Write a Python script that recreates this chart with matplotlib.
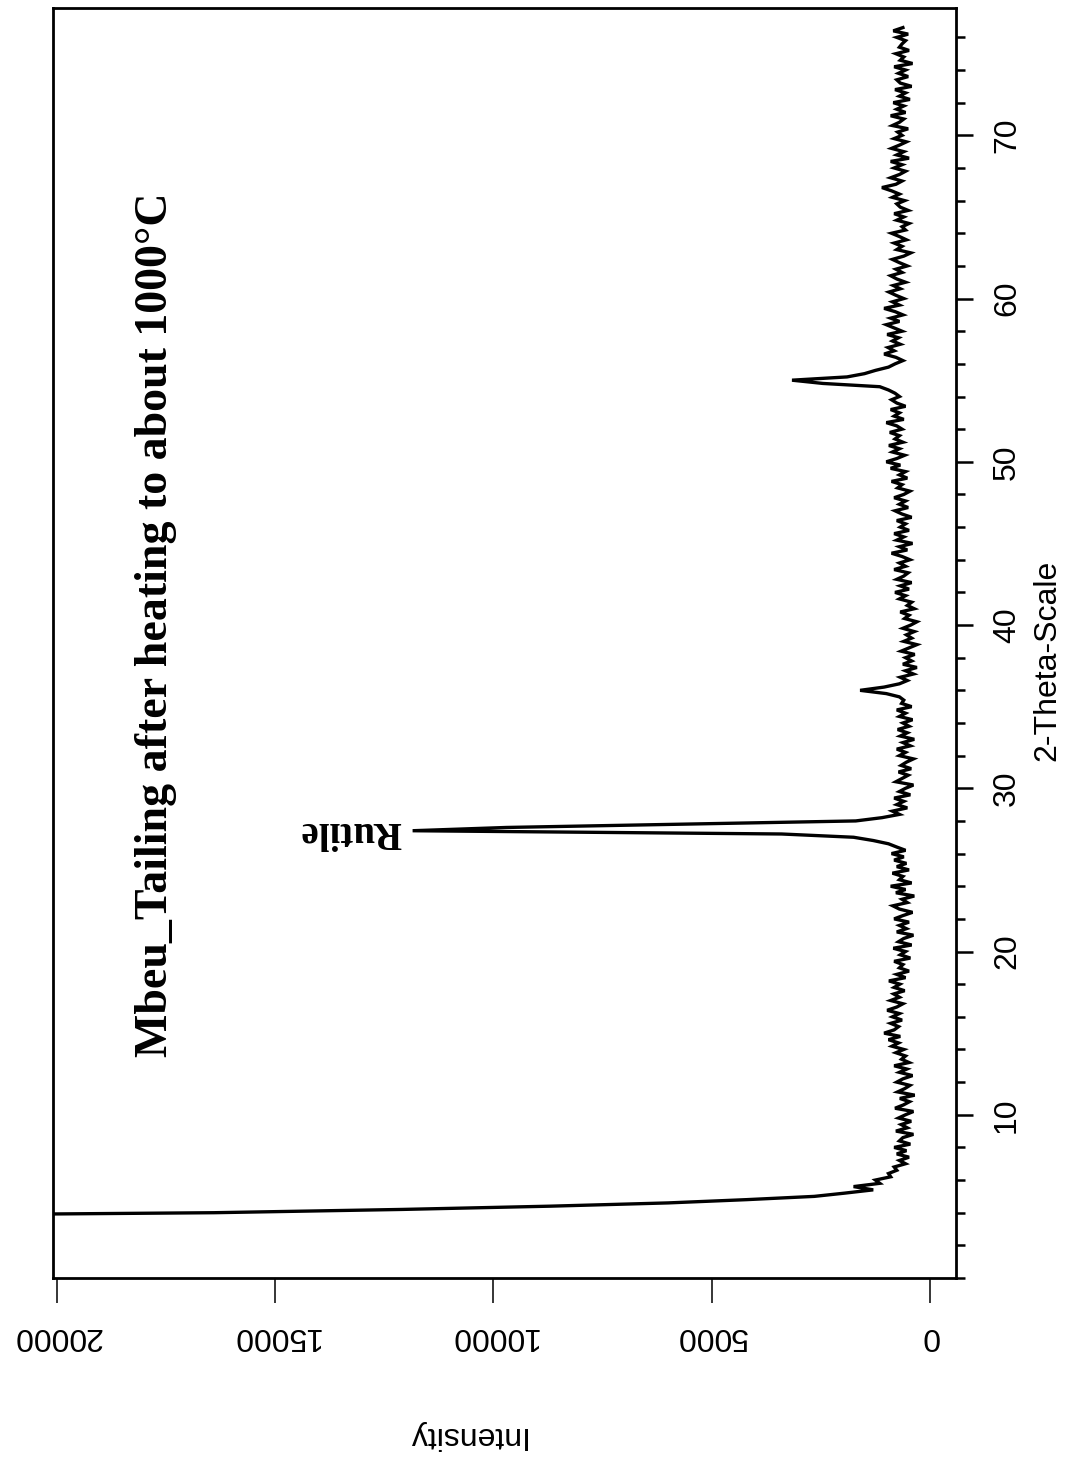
import numpy as np
import matplotlib.pyplot as plt
from matplotlib.ticker import MultipleLocator

# scan: 2-theta from 3.8 to 76.6 deg, 0.2 deg step
scan_start = 3.8
scan_stop = 76.6
scan_step = 0.2

# counts, one row = 2 deg
counts = [
    26000, 16400, 12100, 8700, 6000, 4200, 2650, 1950, 1300, 1750,   # 3.8
    1150, 1250, 900, 950, 760, 820, 560, 700, 480, 760,              # 5.8
    540, 820, 450, 700, 620, 380, 780, 520, 660, 430,                # 7.8
    720, 560, 380, 800, 610, 470, 690, 350, 740, 580,                # 9.8
    460, 760, 620, 400, 700, 530, 820, 480, 650, 560,                # 11.8
    780, 600, 870, 720, 950, 680, 1050, 820, 720, 900,               # 13.8
    640, 860, 700, 980, 760, 620, 900, 700, 830, 580,                # 15.8
    820, 690, 940, 560, 760, 480, 700, 620, 820, 450,                # 17.8
    680, 560, 840, 420, 720, 600, 380, 760, 540, 700,                # 19.8
    480, 820, 620, 400, 700, 850, 520, 640, 360, 780,                # 21.8
    560, 900, 420, 700, 620, 860, 480, 760, 540, 820,                # 23.8
    600, 880, 560, 760, 950, 1300, 1750, 3400, 11850, 9700,          # 25.8
    5700, 1700, 1100, 700, 860, 520, 760, 600, 820, 450,             # 27.8
    700, 560, 380, 780, 640, 500, 720, 430, 660, 540,                # 29.8
    380, 700, 560, 760, 450, 620, 360, 680, 520, 740,                # 31.8
    480, 620, 400, 700, 560, 760, 420, 650, 600, 700,                # 33.8
    1000, 1600, 1050, 700, 520, 680, 380, 560, 300, 620,             # 35.8
    420, 560, 350, 660, 480, 300, 600, 420, 540, 360,                # 37.8
    620, 440, 300, 580, 480, 680, 360, 520, 420, 700,                # 39.8
    560, 800, 480, 680, 420, 760, 600, 500, 820, 560,                # 41.8
    700, 460, 640, 880, 520, 700, 400, 760, 600, 820,                # 43.8
    480, 680, 560, 760, 420, 640, 800, 500, 700, 560,                # 45.8
    820, 600, 460, 740, 640, 880, 520, 700, 560, 900,                # 47.8
    680, 1000, 760, 580, 860, 700, 940, 620, 800, 700,               # 49.8
    920, 640, 760, 1000, 600, 820, 700, 900, 560, 760,               # 51.8
    880, 700, 800, 950, 1150, 2450, 3160, 1900, 1500, 1250,          # 53.8
    950, 800, 620, 780, 1050, 820, 960, 680, 860, 720,               # 55.8
    980, 640, 820, 1000, 700, 900, 620, 800, 1050, 700,              # 57.8
    860, 600, 780, 940, 680, 840, 560, 760, 900, 640,                # 59.8
    780, 520, 700, 860, 600, 440, 760, 640, 820, 540,                # 61.8
    700, 880, 560, 640, 480, 760, 600, 820, 500, 680,                # 63.8
    760, 580, 860, 700, 880, 1100, 780, 640, 900, 700,               # 65.8
    560, 820, 640, 900, 480, 760, 600, 880, 700, 540,                # 67.8
    820, 640, 740, 500, 860, 700, 600, 900, 560, 760,                # 69.8
    600, 840, 460, 700, 560, 800, 420, 680, 760, 500,                # 71.8
    720, 560, 820, 400, 680, 600, 780, 480, 700, 640,                # 73.8
    560, 760, 500, 840, 620,                                         # 75.8
]

title_text = "Mbeu_Tailing after heating to about 1000\u00b0C"
peak_label = "Rutile"
intensity_ticks = [0, 5000, 10000, 15000, 20000]
theta_ticks = [10, 20, 30, 40, 50, 60, 70]

two_theta = np.round(np.arange(scan_start, scan_stop + scan_step / 2, scan_step), 2)
counts = np.array(counts)

fig = plt.figure(figsize=(10.73, 14.59), dpi=100)
ax = fig.add_axes([53 / 1073, 1 - 1278 / 1459, (956 - 53) / 1073, (1278 - 8) / 1459])

# the pattern is drawn turned on its side: intensity across, 2-theta up
ax.plot(counts, two_theta, color="black", lw=2.4, solid_joinstyle="miter")

ax.set_xlim(20087, -596)
ax.set_ylim(0, 77.8)

for s in ax.spines.values():
    s.set_linewidth(2.0)

ax.set_xticks(intensity_ticks)
ax.set_xticklabels([str(v) for v in intensity_ticks], rotation=180,
                   fontsize=23, family="Liberation Sans")
ax.tick_params(axis="x", direction="out", length=18, width=1.1, pad=13)

ax.yaxis.set_major_locator(MultipleLocator(10))
ax.yaxis.set_minor_locator(MultipleLocator(2))
ax.set_yticks(theta_ticks)
ax.tick_params(axis="y", which="both", left=False, labelleft=False,
               right=True, labelright=True, direction="out", width=1.8)
ax.tick_params(axis="y", which="major", length=12, pad=14)
ax.tick_params(axis="y", which="minor", length=6.5)
for lab in ax.get_yticklabels():
    lab.set_rotation(90)
    lab.set_fontsize(23)
    lab.set_family("Liberation Sans")
    lab.set_va("center")

fig.text(156 / 1073, 1 - 625 / 1459, title_text, rotation=90, ha="center",
         va="center", fontsize=33, fontweight="bold", family="Liberation Serif")
fig.text(351 / 1073, 1 - 831 / 1459, peak_label, rotation=180, ha="center",
         va="center", fontsize=28, fontweight="bold", family="Liberation Serif")
fig.text(465 / 1073, 1 - 1435 / 1459, "Intensity", rotation=180, ha="center",
         va="center", fontsize=23, family="Liberation Sans")
fig.text(1047 / 1073, 1 - 660 / 1459, "2-Theta-Scale", rotation=90, ha="center",
         va="center", fontsize=23, family="Liberation Sans")

fig.savefig("out.png", dpi=100)
